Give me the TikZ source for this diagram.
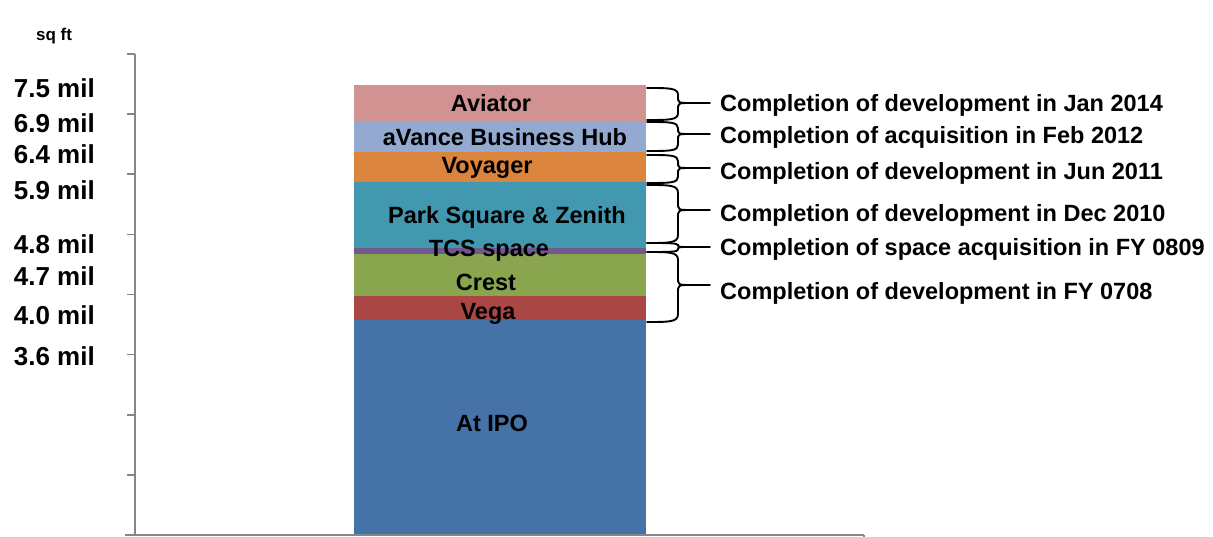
\documentclass[tikz,border=0pt]{standalone}
\usepackage{fontspec}
\setmainfont{Liberation Sans}
\begin{document}
\begin{tikzpicture}[x=1pt,y=-1pt,
  axisline/.style={draw=axisgray,line width=1.6pt},
  seglabel/.style={font=\bfseries\fontsize{23.5}{26}\selectfont,inner sep=0pt,anchor=center,text height=16.8pt,text depth=0pt},
  ylab/.style={font=\bfseries\fontsize{26}{28}\selectfont,inner sep=0pt,anchor=east,text height=18.6pt,text depth=0pt},
  rlab/.style={font=\bfseries\fontsize{23.5}{26}\selectfont,inner xsep=10pt,inner ysep=0pt,anchor=west,text height=16.8pt,text depth=0pt},
  bracestyle/.style={draw=black,line width=1.9pt,line cap=round,line join=round}]
\definecolor{axisgray}{HTML}{868686}
\definecolor{cIPO}{HTML}{4572A7}
\definecolor{cVega}{HTML}{AA4643}
\definecolor{cCrest}{HTML}{89A54E}
\definecolor{cTCS}{HTML}{71588F}
\definecolor{cPark}{HTML}{4198AF}
\definecolor{cVoy}{HTML}{DB843D}
\definecolor{cAvance}{HTML}{93A9CF}
\definecolor{cAviator}{HTML}{D19392}
\useasboundingbox (0,0) rectangle (1213,537);
% bar segments
\fill[cIPO] (354,320) rectangle (646,535);
\fill[cVega] (354,296) rectangle (646,320);
\fill[cCrest] (354,254) rectangle (646,296);
\fill[cTCS] (354,248) rectangle (646,254);
\fill[cPark] (354,182) rectangle (646,248);
\fill[cVoy] (354,152) rectangle (646,182);
\fill[cAvance] (354,122) rectangle (646,152);
\fill[cAviator] (354,85) rectangle (646,122);
% axes
\draw[axisline] (135,54) -- (135,535);
\foreach \yy in {54,114.1,174.2,234.4,294.5,354.6,414.8,474.9}
  \draw[axisline] (127,\yy) -- (135,\yy);
\draw[axisline] (125,535) -- (864,535);
\draw[axisline] (864,535) -- (864,539);
% segment labels
\node[seglabel] (lIPO) at (492,423) {At IPO};
\node[seglabel] (lVega) at (488,311) {Vega};
\node[seglabel] (lCrest) at (486,282) {Crest};
\node[seglabel] (lTCS) at (489,248) {TCS space};
\node[seglabel] (lPark) at (507,215) {Park Square \& Zenith};
\node[seglabel] (lVoy) at (487,165) {Voyager};
\node[seglabel] (lAvance) at (505,137) {aVance Business Hub};
\node[seglabel] (lAviator) at (491,103) {Aviator};
% y labels
\node[font=\bfseries\fontsize{17}{19}\selectfont,inner sep=0pt] (unit) at (54,36) {sq ft};
\node[ylab] (y75) at (95,88) {7.5 mil};
\node[ylab] (y69) at (95,123) {6.9 mil};
\node[ylab] (y64) at (95,154) {6.4 mil};
\node[ylab] (y59) at (95,190) {5.9 mil};
\node[ylab] (y48) at (95,244) {4.8 mil};
\node[ylab] (y47) at (95,276) {4.7 mil};
\node[ylab] (y40) at (95,315) {4.0 mil};
\node[ylab] (y36) at (95,356) {3.6 mil};
% braces: top, bottom, tip, radius, tip name
\newcommand\mybrace[5]{%
  \draw[bracestyle] (647,#1) .. controls (670,#1) and (678,#1) .. (678,#1+#4)
    -- (678,#3-#4) .. controls (678,#3) .. (690,#3) coordinate (#5)
    .. controls (678,#3) .. (678,#3+#4) -- (678,#2-#4)
    .. controls (678,#2) and (670,#2) .. (647,#2);}
\mybrace{88}{120}{103}{7}{b1}
\mybrace{122}{151}{134}{6}{b2}
\mybrace{155}{183}{168}{6}{b3}
\mybrace{185}{243}{210}{8}{b4}
\mybrace{243}{252}{247}{2.5}{b5}
\mybrace{252}{322}{285}{8}{b6}
% right labels
\node[rlab] (r1) at (710,103) {Completion of development in Jan 2014};
\node[rlab] (r2) at (710,135) {Completion of acquisition in Feb 2012};
\node[rlab] (r3) at (710,171) {Completion of development in Jun 2011};
\node[rlab] (r4) at (710,213) {Completion of development in Dec 2010};
\node[rlab] (r5) at (710,247) {Completion of space acquisition in FY 0809};
\node[rlab] (r6) at (710,291) {Completion of development in FY 0708};
\foreach \i in {1,...,6}
  \draw[bracestyle] (b\i) -- (b\i -| r\i.west);
\end{tikzpicture}
\end{document}
